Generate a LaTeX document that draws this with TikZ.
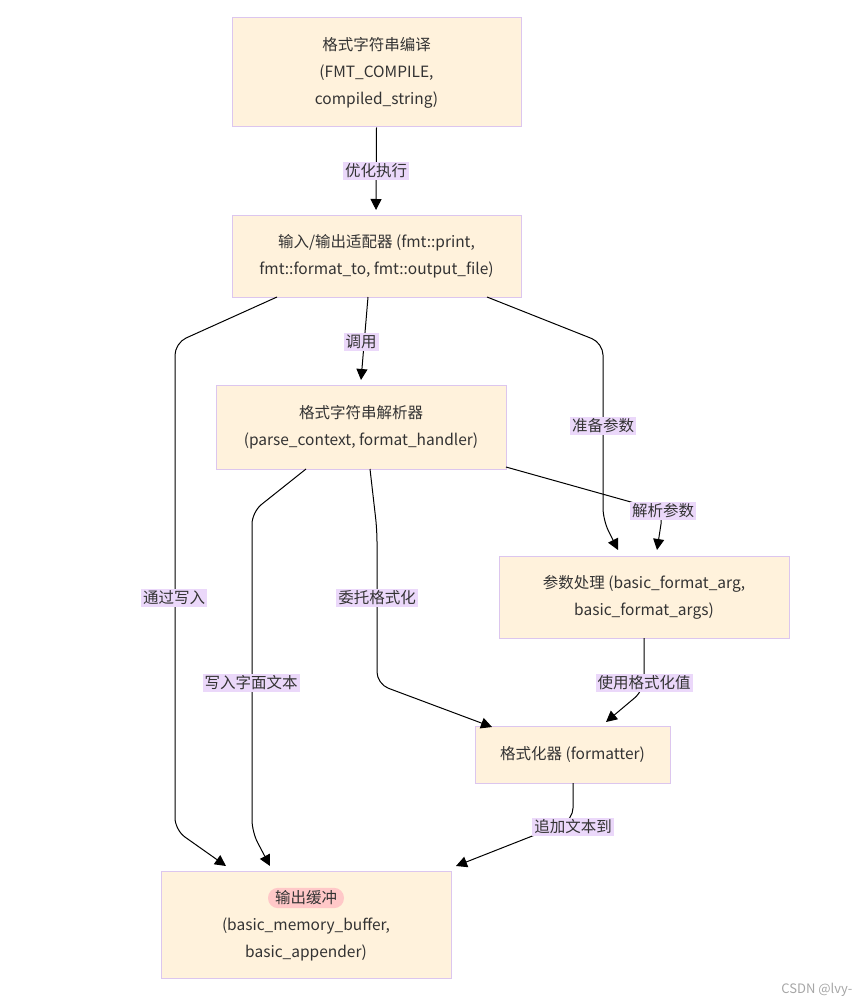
\documentclass[tikz,border=0pt]{standalone}
\usepackage{fontspec}
\setmainfont{Noto Sans CJK SC}
\usetikzlibrary{arrows.meta}
\definecolor{boxfill}{HTML}{FFF2DC}
\definecolor{boxline}{HTML}{DCC6EE}
\definecolor{lblbg}{HTML}{EBD8FA}
\definecolor{txt}{HTML}{333333}
\definecolor{pinkbg}{HTML}{FFC8C8}
\begin{document}
\begin{tikzpicture}[x=1pt,y=-1pt,
  box/.style={draw=boxline,fill=boxfill,line width=1pt,text=txt,align=center,font=\fontsize{15.5}{27}\selectfont,inner sep=0pt},
  lbl/.style={fill=lblbg,text=txt,font=\fontsize{15.5}{17}\selectfont,inner sep=2pt},
  edge/.style={draw=black,line width=1pt,rounded corners=12pt,-{Triangle[length=11pt,width=11pt]}}]
\useasboundingbox (0,0) rectangle (860,1006);
\node[box,minimum width=289pt,minimum height=109pt] (n1) at (376.5,72.5) {格式字符串编译\\(FMT\_COMPILE,\\compiled\_string)};
\node[box,minimum width=289pt,minimum height=82pt] (n2) at (376.5,256) {输入/输出适配器 (fmt::print,\\fmt::format\_to, fmt::output\_file)};
\node[box,minimum width=290pt,minimum height=84pt] (n3) at (361,427) {格式字符串解析器\\(parse\_context, format\_handler)};
\node[box,minimum width=290pt,minimum height=82pt] (n4) at (644,597) {参数处理 (basic\_format\_arg,\\basic\_format\_args)};
\node[box,minimum width=195pt,minimum height=57pt] (n5) at (572.5,754.5) {格式化器 (formatter)};
\node[box,minimum width=290pt,minimum height=107pt] (n6) at (306,924.5) {};
\node[fill=pinkbg,rounded corners=10pt,inner xsep=7pt,inner ysep=3pt,text=txt,font=\fontsize{15.5}{17}\selectfont] (n6a) at (306,898) {输出缓冲};
\node[text=txt,align=center,font=\fontsize{15.5}{27}\selectfont,inner sep=0pt] (n6b) at (306,939) {(basic\_memory\_buffer,\\basic\_appender)};
\coordinate (a1) at (376,210);
\coordinate (a2) at (361,380);
\coordinate (a3) at (226,866);
\coordinate (a4) at (618,550);
\coordinate (a5) at (657,550);
\coordinate (a6) at (270,866);
\coordinate (a7) at (492,727);
\coordinate (a8) at (606,722);
\coordinate (a9) at (456,866);
\draw[edge] (n1.south) -- (a1);
\draw[edge] (368,297) -- (a2);
\draw[edge] (277,297) -- (175,343) -- (175,830) -- (a3);
\draw[edge] (487,297) -- (603,343) -- (603,520) -- (a4);
\draw[edge] (506,467) -- (663,511) -- (a5);
\draw[edge] (306,469) -- (252,512) -- (252,832) -- (a6);
\draw[edge] (370,469) -- (377,530) -- (377,684) -- (a7);
\draw[edge] (644,638) -- (644,690) -- (a8);
\draw[edge] (573,783) -- (573,820) -- (a9);
\node[lbl] (l1) at (376,171) {优化执行};
\node[lbl] (l2) at (361,342) {调用};
\node[lbl] (l3) at (174,598) {通过写入};
\node[lbl] (l4) at (603,426) {准备参数};
\node[lbl] (l5) at (663,511) {解析参数};
\node[lbl] (l6) at (251,683) {写入字面文本};
\node[lbl] (l7) at (377,598) {委托格式化};
\node[lbl] (l8) at (644,683) {使用格式化值};
\node[lbl] (l9) at (573,827) {追加文本到};
\node[text=gray!70,font=\fontsize{13}{15}\selectfont,anchor=east] (wm) at (856,990) {CSDN @lvy-};
\end{tikzpicture}
\end{document}
